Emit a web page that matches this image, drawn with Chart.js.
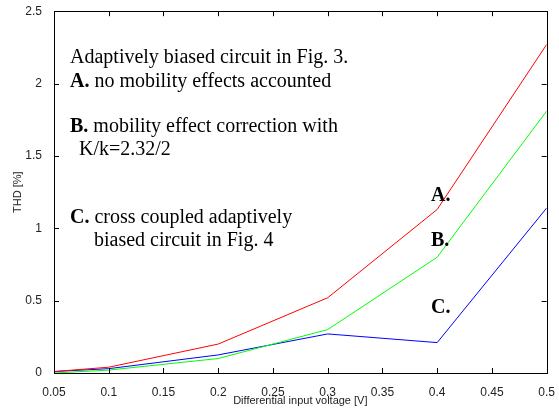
<!DOCTYPE html>
<html>
<head>
<meta charset="utf-8">
<script src="https://cdn.jsdelivr.net/npm/chart.js@4.4.1/dist/chart.umd.min.js"></script>
<style>
  body { margin: 0; background: #fff; }
  #wrap { width: 559px; height: 415px; }
</style>
</head>
<body>
<div id="wrap"><canvas id="thd" width="559" height="415"></canvas></div>
<script>
// input voltage [V]
const voltage = [0.05, 0.1, 0.2, 0.3, 0.4, 0.5];
// THD [%]
const thdA = [0.01, 0.04, 0.2, 0.52, 1.13, 2.27];
const thdB = [0.0, 0.02, 0.1, 0.3, 0.8, 1.81];
const thdC = [0.01, 0.03, 0.125, 0.27, 0.21, 1.14];

const xTicks = [0.05, 0.1, 0.15, 0.2, 0.25, 0.3, 0.35, 0.4, 0.45, 0.5];
const yTicks = [0, 0.5, 1, 1.5, 2, 2.5];

function pts(ys) {
    return voltage.map((v, i) => ({ x: v, y: ys[i] }));
}

// matlab style box with inward ticks
const boxPlugin = {
    id: 'box',
    afterDatasetsDraw(chart) {
        const ctx = chart.ctx;
        const a = chart.chartArea;
        const sx = chart.scales.x, sy = chart.scales.y;
        ctx.save();
        ctx.strokeStyle = '#000';
        ctx.lineWidth = 1;
        ctx.beginPath();
        xTicks.forEach(t => {
            const px = Math.round(sx.getPixelForValue(t)) + 0.5;
            ctx.moveTo(px, a.bottom); ctx.lineTo(px, a.bottom - 5);
            ctx.moveTo(px, a.top); ctx.lineTo(px, a.top + 5);
        });
        yTicks.forEach(t => {
            const py = Math.round(sy.getPixelForValue(t)) + 0.5;
            ctx.moveTo(a.left, py); ctx.lineTo(a.left + 5, py);
            ctx.moveTo(a.right, py); ctx.lineTo(a.right - 5, py);
        });
        ctx.stroke();
        ctx.strokeRect(Math.round(a.left) + 0.5, Math.round(a.top) + 0.5,
            Math.round(a.right - a.left), Math.round(a.bottom - a.top));
        ctx.restore();
    }
};

const notes = [
    { x: 70, y: 63, bold: '', text: 'Adaptively biased circuit in Fig. 3.' },
    { x: 70, y: 87, bold: 'A.', text: ' no mobility effects accounted' },
    { x: 70, y: 132, bold: 'B.', text: ' mobility effect correction with' },
    { x: 79, y: 155, bold: '', text: 'K/k=2.32/2' },
    { x: 70, y: 223, bold: 'C.', text: ' cross coupled adaptively' },
    { x: 94, y: 246, bold: '', text: 'biased circuit in Fig. 4' },
    { x: 431, y: 201, bold: 'A.', text: '' },
    { x: 431, y: 246, bold: 'B.', text: '' },
    { x: 431, y: 313, bold: 'C.', text: '' }
];

const notePlugin = {
    id: 'notes',
    afterDraw(chart) {
        const ctx = chart.ctx;
        ctx.save();
        ctx.fillStyle = '#000';
        ctx.textBaseline = 'alphabetic';
        ctx.textAlign = 'left';
        notes.forEach(n => {
            let x = n.x;
            if (n.bold) {
                ctx.font = 'bold 20px "Liberation Serif", "Times New Roman", serif';
                ctx.fillText(n.bold, x, n.y);
                x += ctx.measureText(n.bold).width;
            }
            if (n.text) {
                ctx.font = '20px "Liberation Serif", "Times New Roman", serif';
                ctx.fillText(n.text, x, n.y);
            }
        });
        ctx.restore();
    }
};

const tickFont = { family: '"Liberation Sans", Arial, sans-serif', size: 12 };

new Chart(document.getElementById('thd'), {
    type: 'line',
    data: {
        datasets: [
            { label: 'A', data: pts(thdA), borderColor: '#ff0000' },
            { label: 'B', data: pts(thdB), borderColor: '#00ff00' },
            { label: 'C', data: pts(thdC), borderColor: '#0000ff' }
        ]
    },
    options: {
        responsive: false,
        animation: false,
        layout: { padding: { left: 0, top: 7, right: 11, bottom: 0 } },
        elements: {
            line: { borderWidth: 1, tension: 0 },
            point: { radius: 0 }
        },
        plugins: {
            legend: { display: false },
            tooltip: { enabled: false }
        },
        scales: {
            x: {
                type: 'linear',
                min: 0.05,
                max: 0.5,
                afterBuildTicks: s => { s.ticks = xTicks.map(v => ({ value: v })); },
                afterFit: s => { s.height = 42; },
                grid: { display: false },
                border: { display: false },
                ticks: {
                    color: '#222',
                    font: tickFont,
                    padding: 4,
                    maxRotation: 0,
                    callback: v => String(Number(v.toFixed(2)))
                },
                title: {
                    display: true,
                    text: 'Differential input voltage [V]',
                    color: '#222',
                    font: { family: '"Liberation Sans", Arial, sans-serif', size: 11 },
                    padding: { top: 0, bottom: 7 }
                }
            },
            y: {
                min: 0,
                max: 2.5,
                afterBuildTicks: s => { s.ticks = yTicks.map(v => ({ value: v })); },
                afterFit: s => { s.width = 54; },
                grid: { display: false },
                border: { display: false },
                ticks: {
                    color: '#222',
                    font: tickFont,
                    padding: 4,
                    callback: v => String(v)
                },
                title: {
                    display: true,
                    text: 'THD [%]',
                    color: '#222',
                    font: { family: '"Liberation Sans", Arial, sans-serif', size: 11 },
                    padding: { top: 11, bottom: 0 }
                }
            }
        }
    },
    plugins: [boxPlugin, notePlugin]
});
</script>
</body>
</html>
